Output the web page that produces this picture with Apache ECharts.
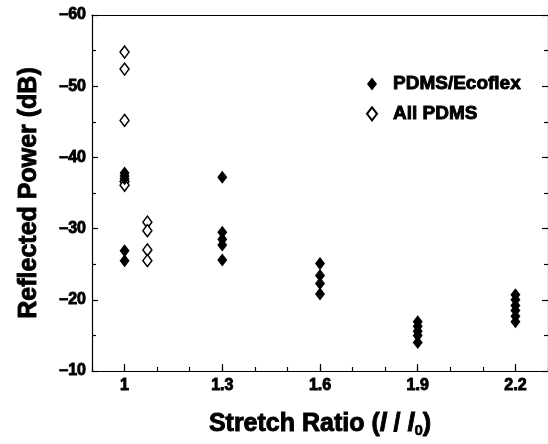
<!DOCTYPE html>
<html>
<head>
<meta charset="utf-8">
<script src="https://cdn.jsdelivr.net/npm/echarts@6/dist/echarts.min.js"></script>
<style>
    html,body{margin:0;padding:0;background:#fff;}
    #chart{width:548px;height:444px;}
</style>
</head>
<body>
<div id="chart"></div>
<script>
// 刻度
let x_ticks = [1, 1.3, 1.6, 1.9, 2.2]

// PDMS/Ecoflex（实心）
let ecoflex_x = [1, 1, 1, 1, 1,
                 1.3, 1.3, 1.3, 1.3, 1.3,
                 1.6, 1.6, 1.6, 1.6,
                 1.9, 1.9, 1.9, 1.9, 1.9,
                 2.2, 2.2, 2.2, 2.2, 2.2, 2.2]
let ecoflex_y = [-37.8, -37.4, -37.0, -26.9, -25.5,
                 -37.2, -29.5, -28.5, -27.7, -25.6,
                 -25.1, -23.4, -22.3, -20.8,
                 -16.9, -16.3, -15.6, -15.0, -14.0,
                 -20.7, -20.0, -19.2, -18.5, -17.7, -16.9]

// All PDMS（空心）
let pdms_x = [1, 1, 1, 1, 1, 1.07, 1.07, 1.07, 1.07]
let pdms_y = [-54.8, -52.4, -45.2, -36.6, -36.1, -30.9, -29.7, -27.0, -25.5]

let font = 'Liberation Sans, Arial, sans-serif'
// 加粗描边
let heavy = {color: '#000', fontFamily: font, fontWeight: 'bold', textBorderColor: '#000', textBorderWidth: 0.9}

let to_pts = (xs, ys) => xs.map((x, i) => [x, ys[i]])

let mychart = echarts.init(document.getElementById('chart'))
mychart.setOption({
    animation: false,
    backgroundColor: '#fff',
    grid: {left: 92, top: 15, right: -4, bottom: 73},
    legend: {
        orient: 'vertical',
        left: 361,
        top: 69,
        itemWidth: 10,
        itemHeight: 13,
        itemGap: 10,
        data: ['PDMS/Ecoflex', 'All PDMS'],
        textStyle: {...heavy, fontSize: 19, padding: [0, 0, 0, 11]}
    },
    xAxis: [
        {
            type: 'value', position: 'bottom', min: 0.9, max: 2.3,
            splitLine: {show: false},
            axisLine: {show: true, lineStyle: {color: '#000', width: 1.2}},
            axisTick: {show: true, inside: true, length: 7, customValues: x_ticks, lineStyle: {color: '#000', width: 1.2}},
            axisLabel: {...heavy, customValues: x_ticks, margin: 7, fontSize: 16,
                formatter: v => String(Math.round(v * 10) / 10)},
            name: 'Stretch Ratio ({i|l} / {i|l}{sub|0})',
            nameLocation: 'middle',
            nameGap: 40,
            nameTextStyle: {
                ...heavy, fontSize: 25,
                rich: {
                    i: {...heavy, fontStyle: 'italic', fontSize: 25},
                    sub: {...heavy, fontSize: 15, textBorderWidth: 0.6, padding: [12, 0, 0, 0]}
                }
            }
        },
        {
            type: 'value', position: 'bottom', min: 0.9, max: 2.3, interval: 0.1,
            splitLine: {show: false},
            axisLine: {show: false},
            axisTick: {show: true, inside: true, length: 4, lineStyle: {color: '#000', width: 1.2}},
            axisLabel: {show: false}
        },
        {
            type: 'value', position: 'top', min: 0.9, max: 2.3,
            splitLine: {show: false},
            axisLine: {show: true, lineStyle: {color: '#000', width: 1.2}},
            axisTick: {show: false},
            axisLabel: {show: false}
        }
    ],
    yAxis: [
        {
            type: 'value', position: 'left', inverse: true, min: -60, max: -10, interval: 10,
            splitLine: {show: false},
            axisLine: {show: true, lineStyle: {color: '#000', width: 1.2}},
            axisTick: {show: true, inside: true, length: 6, lineStyle: {color: '#000', width: 1.2}},
            minorTick: {show: true, splitNumber: 2, length: 4, lineStyle: {color: '#000', width: 1.2}},
            axisLabel: {...heavy, margin: 6, fontSize: 16,
                formatter: v => String(v).replace('-', '\u2013')},
            name: 'Reflected Power (dB)',
            nameLocation: 'middle',
            nameGap: 50,
            nameTextStyle: {...heavy, fontSize: 25}
        },
        {
            type: 'value', position: 'right', inverse: true, min: -60, max: -10, interval: 10,
            splitLine: {show: false},
            axisLine: {show: true, lineStyle: {color: '#000', width: 1.2}},
            axisTick: {show: true, inside: true, length: 6, lineStyle: {color: '#000', width: 1.2}},
            minorTick: {show: true, splitNumber: 2, length: 4, lineStyle: {color: '#000', width: 1.2}},
            axisLabel: {show: false}
        }
    ],
    series: [
        {
            name: 'All PDMS',
            type: 'scatter',
            z: 2,
            symbol: 'diamond',
            symbolSize: [9, 12],
            itemStyle: {color: '#fff', borderColor: '#000', borderWidth: 1.5, opacity: 1},
            data: to_pts(pdms_x, pdms_y)
        },
        {
            name: 'PDMS/Ecoflex',
            type: 'scatter',
            z: 3,
            symbol: 'diamond',
            symbolSize: [10, 13],
            itemStyle: {color: '#000', opacity: 1},
            data: to_pts(ecoflex_x, ecoflex_y)
        }
    ]
})
</script>
</body>
</html>
